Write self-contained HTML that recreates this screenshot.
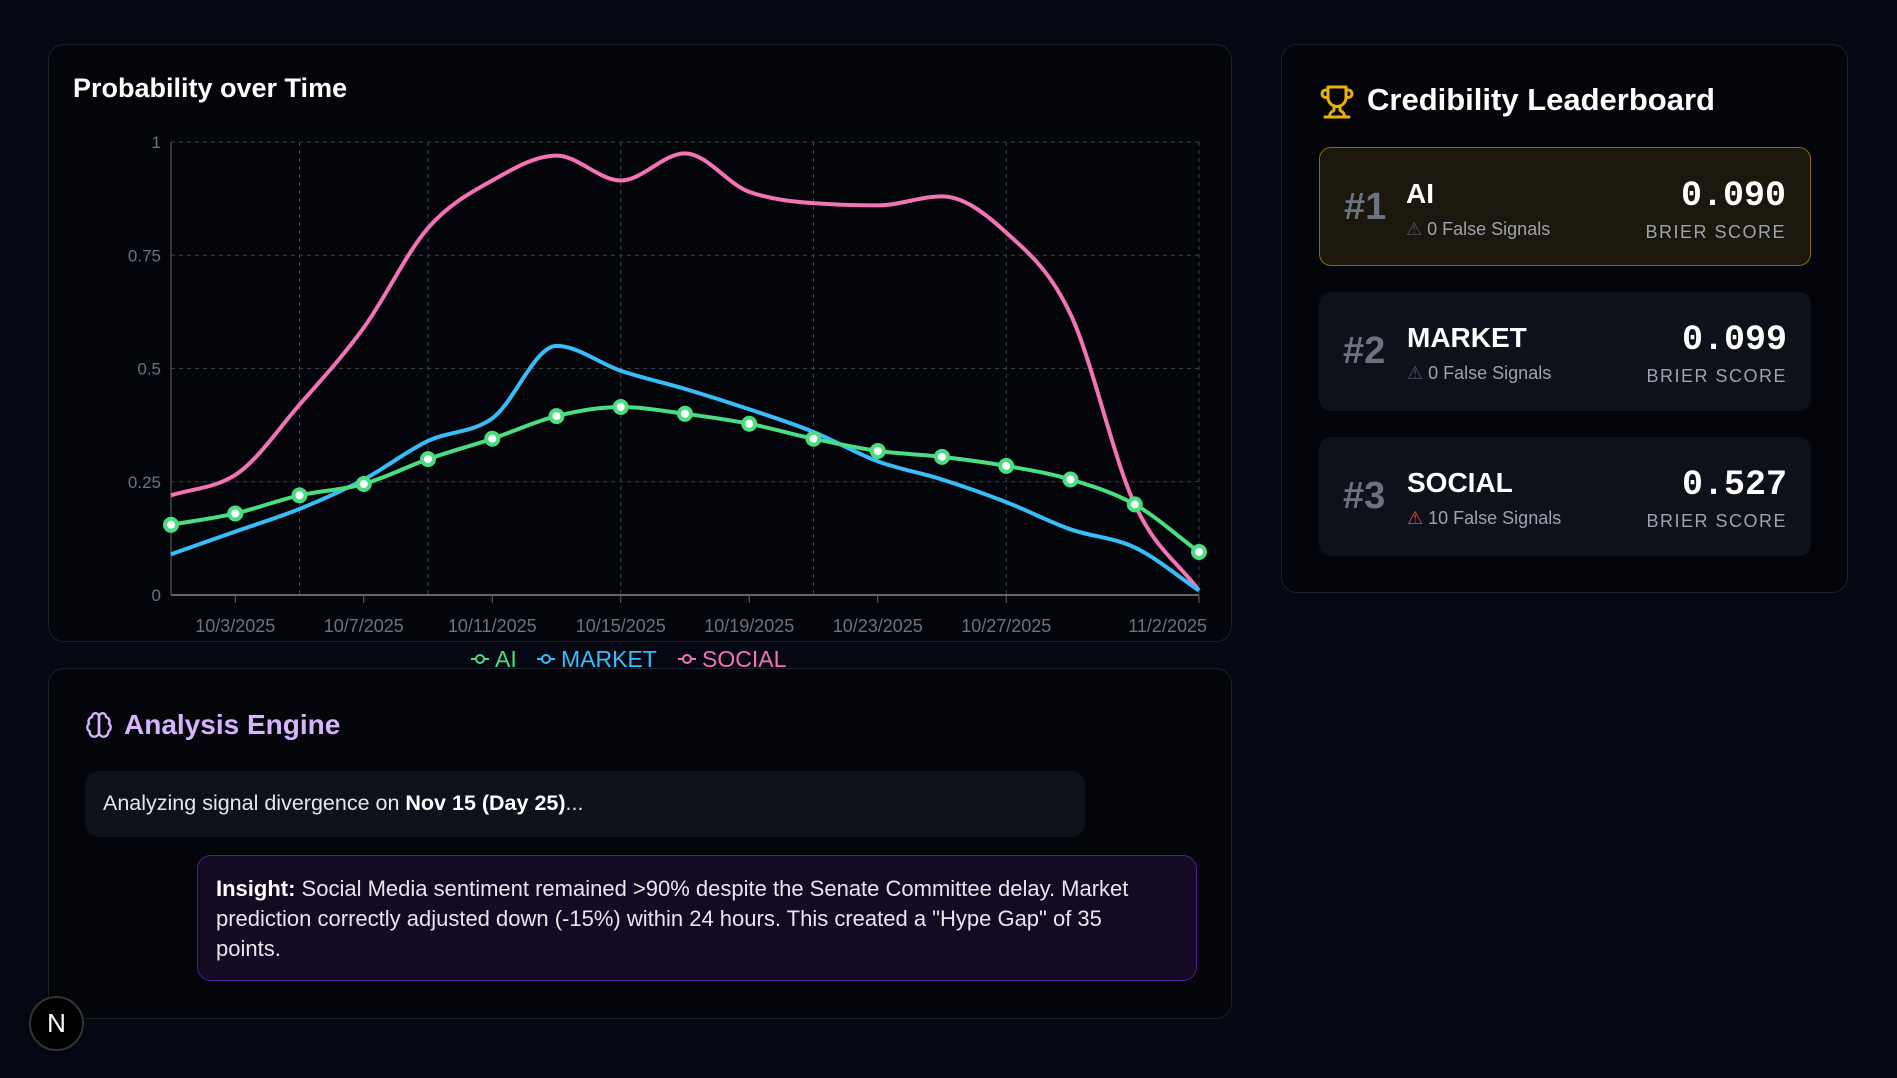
<!DOCTYPE html>
<html><head><meta charset="utf-8"><style>
*{box-sizing:border-box;margin:0;padding:0}
body{width:1897px;height:1078px;background:#050813;font-family:"Liberation Sans",sans-serif;color:#fff;position:relative;overflow:hidden}
.card{position:absolute;background:#03050b;border:1px solid #1b2029;border-radius:16px}
.row{position:absolute;left:37px;width:492px;height:119px;border-radius:12px;background:#0e1119}
.rank{position:absolute;left:24px;top:38px;font-size:38px;font-weight:bold;color:#6b7280}
.nm{position:absolute;left:88px;top:30px;font-size:28px;font-weight:bold}
.fs{position:absolute;left:88px;top:71px;font-size:18px;color:#9ca3af}
.sc{position:absolute;right:24px;top:28px;font-family:"Liberation Mono",monospace;font-weight:bold;font-size:35px}
.bl{position:absolute;right:24px;top:74px;font-size:18px;color:#9ca3af;letter-spacing:1.5px}
</style></head><body>
<div class="card" style="left:48px;top:44px;width:1184px;height:598px">
<div style="position:absolute;left:24px;top:28px;font-size:27px;font-weight:bold">Probability over Time</div>
</div>
<svg id="chart" width="1897" height="680" style="position:absolute;left:0;top:0"></svg>

<div class="card" style="left:1281px;top:44px;width:567px;height:549px">
<svg width="36" height="36" viewBox="0 0 24 24" style="position:absolute;left:37px;top:39px" fill="none" stroke="#eab308" stroke-width="2" stroke-linecap="round" stroke-linejoin="round"><path d="M6 9H4.5a2.5 2.5 0 0 1 0-5H6"/><path d="M18 9h1.5a2.5 2.5 0 0 0 0-5H18"/><path d="M4 22h16"/><path d="M10 14.66V17c0 .55-.47.98-.97 1.21C7.85 18.75 7 20.24 7 22"/><path d="M14 14.66V17c0 .55.47.98.97 1.21C16.15 18.75 17 20.24 17 22"/><path d="M18 2H6v7a6 6 0 0 0 12 0V2Z"/></svg>
<div style="position:absolute;left:85px;top:37px;font-size:31px;font-weight:bold">Credibility Leaderboard</div>
<div class="row" style="top:102px;background:#1c170c;border:1px solid #8a6a10">
<div class="rank">#1</div><div class="nm" style="left:86px">AI</div><div class="fs" style="left:86px"><span style="color:#4b5563">⚠</span> 0 False Signals</div>
<div class="sc">0.090</div><div class="bl">BRIER SCORE</div></div>
<div class="row" style="top:247px">
<div class="rank">#2</div><div class="nm">MARKET</div><div class="fs"><span style="color:#4b5563">⚠</span> 0 False Signals</div>
<div class="sc">0.099</div><div class="bl">BRIER SCORE</div></div>
<div class="row" style="top:392px">
<div class="rank">#3</div><div class="nm">SOCIAL</div><div class="fs"><span style="color:#ef4444">⚠</span> 10 False Signals</div>
<div class="sc">0.527</div><div class="bl">BRIER SCORE</div></div>
</div>

<div class="card" style="left:48px;top:668px;width:1184px;height:351px">
<svg width="28" height="28" viewBox="0 0 24 24" style="position:absolute;left:36px;top:42px" fill="none" stroke="#d8b4fe" stroke-width="2"><path d="M12 5a3 3 0 1 0-5.99.13 4 4 0 0 0-2.53 5.77 4 4 0 0 0 .56 6.59A4 4 0 1 0 12 18Z"/><path d="M12 5a3 3 0 1 1 5.99.13 4 4 0 0 1 2.53 5.77 4 4 0 0 1-.56 6.59A4 4 0 1 1 12 18Z"/><path d="M12 5v13"/></svg>
<div style="position:absolute;left:75px;top:40px;font-size:28px;font-weight:bold;color:#d8b4fe">Analysis Engine</div>
<div style="position:absolute;left:36px;top:102px;width:1000px;height:66px;background:#0e1119;border-radius:14px;padding:20px 0 0 18px;font-size:21.5px;color:#e5e7eb">Analyzing signal divergence on <b style="color:#fff">Nov 15 (Day 25)</b>...</div>
<div style="position:absolute;left:148px;top:186px;width:1000px;height:126px;background:#140a24;border:1px solid #4c1d95;border-radius:14px;padding:18px 30px 0 18px;font-size:22px;line-height:30px;color:#e5e7eb"><b style="color:#fff">Insight:</b> Social Media sentiment remained &gt;90% despite the Senate Committee delay. Market prediction correctly adjusted down (-15%) within 24 hours. This created a "Hype Gap" of 35 points.</div>
</div>
<div style="position:absolute;left:29px;top:996px;width:55px;height:55px;border-radius:50%;background:#000;border:2px solid #333;color:#fff;font-size:26px;text-align:center;line-height:51px">N</div>

<script>
const dates=["10/1","10/3","10/5","10/7","10/9","10/11","10/13","10/15","10/17","10/19","10/21","10/23","10/25","10/27","10/29","10/31","11/2"];
const aiValues=[0.155,0.18,0.22,0.245,0.30,0.345,0.395,0.415,0.40,0.378,0.345,0.318,0.305,0.285,0.255,0.20,0.095];
const marketValues=[0.09,0.14,0.19,0.255,0.34,0.39,0.55,0.495,0.455,0.41,0.36,0.295,0.255,0.205,0.145,0.105,0.01];
const socialValues=[0.22,0.265,0.42,0.59,0.81,0.915,0.97,0.915,0.975,0.89,0.865,0.86,0.88,0.80,0.62,0.20,0.01];
const yTicks=[0,0.25,0.5,0.75,1];
const yTickLabels=["0","0.25","0.5","0.75","1"];
const xTickDates=["10/3","10/7","10/11","10/15","10/19","10/23","10/27","11/2"];
const xGridDates=["10/5","10/9","10/15","10/21","10/27","11/2"];
const svg=document.getElementById('chart');const NS='http://www.w3.org/2000/svg';
const L=171,R=1199,T=142,B=595;
const xs=i=>L+(R-L)*i/(dates.length-1);
const xd=d=>xs(dates.indexOf(d));
const ys=v=>B-(B-T)*v;
function mk(t,a,p){const e=document.createElementNS(NS,t);for(const k in a)e.setAttribute(k,a[k]);(p||svg).appendChild(e);return e;}
yTicks.forEach((v,i)=>{
 const g=mk('line',{x1:L,x2:R,y1:ys(v),y2:ys(v),stroke:'#3a3f4a','stroke-dasharray':'4 4'});
 
 const t=mk('text',{x:L-10,y:ys(v)+6,'text-anchor':'end',fill:'#6b7280','font-size':17});t.textContent=yTickLabels[i];
 
});
xGridDates.forEach(d=>{const g=mk('line',{x1:xd(d),x2:xd(d),y1:T,y2:B,stroke:'#3a3f4a','stroke-dasharray':'4 4'});
 });
mk('line',{x1:L,x2:L,y1:T,y2:B,stroke:'#666'});mk('line',{x1:L,x2:R,y1:B,y2:B,stroke:'#666',"stroke-width":2});
xTickDates.forEach((d,i)=>{mk('line',{x1:xd(d),x2:xd(d),y1:B,y2:B+8,stroke:'#666'});
 const last=i===xTickDates.length-1;
 const t=mk('text',{x:last?xd(d)+8:xd(d),y:B+37,'text-anchor':last?'end':'middle',fill:'#6b7280','font-size':18});t.textContent=d+'/2025';
 });
function mono(pts){const n=pts.length;const d=[],m=[];for(let i=0;i<n-1;i++)d.push((pts[i+1][1]-pts[i][1])/(pts[i+1][0]-pts[i][0]));
 m[0]=d[0];m[n-1]=d[n-2];for(let i=1;i<n-1;i++){m[i]=d[i-1]*d[i]<=0?0:(function(){const h0=pts[i][0]-pts[i-1][0],h1=pts[i+1][0]-pts[i][0];const p=(d[i-1]*h1+d[i]*h0)/(h0+h1);return (Math.sign(d[i-1])+Math.sign(d[i]))*Math.min(Math.abs(d[i-1]),Math.abs(d[i]),0.5*Math.abs(p));})();}
 let s='M'+pts[0][0]+','+pts[0][1];for(let i=0;i<n-1;i++){const h=(pts[i+1][0]-pts[i][0])/3;s+=' C'+(pts[i][0]+h)+','+(pts[i][1]+h*m[i])+' '+(pts[i+1][0]-h)+','+(pts[i+1][1]-h*m[i+1])+' '+pts[i+1][0]+','+pts[i+1][1];}return s;}
function series(vals,color,name,dots){const p=mk('path',{d:mono(vals.map((v,i)=>[xs(i),ys(v)])),fill:'none',stroke:color,'stroke-width':4});
 
 if(dots)vals.forEach((v,i)=>{const c=mk('circle',{cx:xs(i),cy:ys(v),r:6,fill:'#fff',stroke:color,'stroke-width':4});
  });}
series(socialValues,'#f472b6','social',false);
series(marketValues,'#38bdf8','market',false);
series(aiValues,'#4ade80','ai',true);
const leg=[['AI','#4ade80',471],['MARKET','#38bdf8',537],['SOCIAL','#f472b6',678]];
leg.forEach(l=>{const g=mk('g',{});
 mk('line',{x1:l[2],x2:l[2]+18,y1:659,y2:659,stroke:l[1],'stroke-width':2},g);mk('circle',{cx:l[2]+9,cy:659,r:4,fill:'#03050b',stroke:l[1],'stroke-width':2},g);
 const t=mk('text',{x:l[2]+24,y:667,fill:l[1],'font-size':23},g);t.textContent=l[0];});
</script>
</body></html>
